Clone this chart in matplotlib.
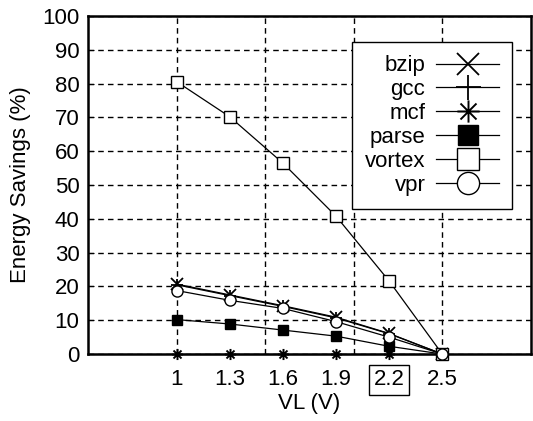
import matplotlib
matplotlib.use("Agg")
import matplotlib.pyplot as plt
from matplotlib.path import Path
import numpy as np

plt.rcParams['font.family'] = ['Liberation Sans', 'DejaVu Sans']

vl = [1.0, 1.3, 1.6, 1.9, 2.2, 2.5]
xtick_labels = ["1", "1.3", "1.6", "1.9", "2.2", "2.5"]
bzip = [20.7, 17.5, 14.3, 10.9, 6.1, 0]
gcc = [20.5, 17.3, 14.1, 10.7, 6.0, 0]
mcf = [0, 0, 0, 0, 0, 0]
parse = [10.2, 8.9, 7.1, 5.3, 2.3, 0]
vortex = [80.6, 70.2, 56.5, 40.8, 21.6, 0]
vpr = [18.8, 15.9, 13.5, 9.6, 5.0, 0]
yticks = list(range(0, 101, 10))
grid_x = [1.0, 1.5, 2.0, 2.5]

# asterisk marker (x + plus)
star_path = Path(
    [(-1, 0), (1, 0), (0, -1), (0, 1), (-0.72, -0.72), (0.72, 0.72), (-0.72, 0.72), (0.72, -0.72)],
    [Path.MOVETO, Path.LINETO] * 4)

fig = plt.figure(figsize=(5.33, 4.21), dpi=100)
ax = fig.add_axes([0.165, 0.159, 0.831, 0.803])

lw = 0.9
ms = 8
series = [
    ("bzip", bzip, dict(marker='x', color='black', markersize=ms, mew=1.3)),
    ("gcc", gcc, dict(marker='+', color='black', markersize=ms + 1, mew=1.3)),
    ("mcf", mcf, dict(marker=star_path, color='black', markersize=ms, mew=1.4, mfc='none')),
    ("parse", parse, dict(marker='s', color='black', markersize=7, mfc='black', mew=1)),
    ("vortex", vortex, dict(marker='s', color='black', markersize=8, mfc='white', mew=1)),
    ("vpr", vpr, dict(marker='o', color='black', markersize=8, mfc='white', mew=1)),
]
handles = []
for name, ys, st in series:
    h, = ax.plot(vl, ys, linestyle='-', linewidth=lw, label=name, zorder=3, clip_on=False, **st)
    handles.append(h)

ax.set_xlim(0.5, 3.0)
ax.set_ylim(0, 100)
ax.set_yticks(yticks)
ax.set_xticks(vl)
ax.set_xticklabels(xtick_labels)
ax.tick_params(axis='x', which='major', length=0, labelsize=16, pad=11)
ax.tick_params(axis='y', which='major', length=4, direction='in', labelsize=16, pad=6)
ax.grid(True, axis='y', which='major', linestyle=(0, (4, 3)), color='black', linewidth=1)
for gx in grid_x:
    ax.axvline(gx, linestyle=(0, (4, 3)), color='black', linewidth=1, zorder=1)
for sp in ax.spines.values():
    sp.set_linewidth(1.8)

lbls = ax.get_xticklabels()
lbls[4].set_bbox(dict(facecolor='none', edgecolor='black', boxstyle='square,pad=0.2', linewidth=1))

ax.set_xlabel("VL (V)", fontsize=16, labelpad=2)
ax.set_ylabel("Energy Savings (%)", fontsize=16, labelpad=8)

leg = ax.legend(handles=handles, loc='upper right', bbox_to_anchor=(512 / 533, 1 - 42 / 421),
                bbox_transform=fig.transFigure, markerfirst=False, fontsize=16,
                fancybox=False, framealpha=1, edgecolor='black', markerscale=2.0,
                handlelength=2.8, handletextpad=0.5, labelspacing=0.13, borderpad=0.6,
                borderaxespad=0)
leg.get_frame().set_linewidth(1.0)
leg.set_zorder(5)

fig.savefig("out.png", dpi=100)
